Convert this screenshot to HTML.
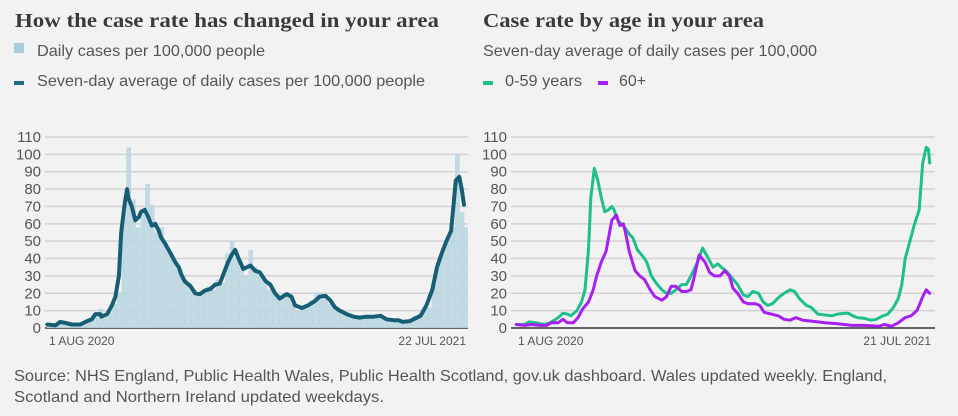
<!DOCTYPE html>
<html><head><meta charset="utf-8"><style>
html,body{margin:0;padding:0;background:#f2f2f2;}
svg{display:block;font-family:"Liberation Sans",sans-serif;}
</style></head><body>
<svg id="c" width="958" height="416" viewBox="0 0 958 416">
<text x="15" y="27" font-family="Liberation Serif,serif" font-weight="bold" font-size="20" fill="#3a3a3a" textLength="424" lengthAdjust="spacingAndGlyphs">How the case rate has changed in your area</text>
<rect x="14" y="43" width="10" height="10" fill="#a9ccd9"/>
<text x="37" y="56" font-size="16" fill="#555" textLength="228" lengthAdjust="spacingAndGlyphs">Daily cases per 100,000 people</text>
<rect x="14" y="81" width="10" height="4" fill="#1f6a85"/>
<text x="37" y="86" font-size="16" fill="#555" textLength="388" lengthAdjust="spacingAndGlyphs">Seven-day average of daily cases per 100,000 people</text>
<text x="483" y="27" font-family="Liberation Serif,serif" font-weight="bold" font-size="20" fill="#3a3a3a" textLength="281" lengthAdjust="spacingAndGlyphs">Case rate by age in your area</text>
<text x="483" y="56" font-size="16" fill="#555" textLength="334" lengthAdjust="spacingAndGlyphs">Seven-day average of daily cases per 100,000</text>
<rect x="483" y="81" width="10" height="4" fill="#1dbf8e"/>
<text x="505" y="86" font-size="16" fill="#555" textLength="77" lengthAdjust="spacingAndGlyphs">0-59 years</text>
<rect x="598" y="81" width="10" height="4" fill="#a820f0"/>
<text x="619" y="86" font-size="16" fill="#555" textLength="27" lengthAdjust="spacingAndGlyphs">60+</text>
<g id="left"></g>
<g id="right"></g>
<text x="14" y="381" font-size="16" fill="#555" textLength="873" lengthAdjust="spacingAndGlyphs">Source: NHS England, Public Health Wales, Public Health Scotland, gov.uk dashboard. Wales updated weekly. England,</text>
<text x="14" y="402" font-size="16" fill="#555" textLength="370" lengthAdjust="spacingAndGlyphs">Scotland and Northern Ireland updated weekdays.</text>
</svg>
<script>
const yTicks=[0,10,20,30,40,50,60,70,80,90,100,110];
const barDays=[0,4,8,12,16,20,24,28,32,36,40,44,48,52,56,60,64,68,72,76,80,84,88,92,96,100,104,108,112,116,120,124,128,132,136,140,144,148,152,156,160,164,168,172,176,180,184,188,192,196,200,204,208,212,216,220,224,228,232,236,240,244,248,252,256,260,264,268,272,276,280,284,288,292,296,300,304,308,312,316,320,324,328,332,336,340,344,348,352,355];
const barVals=[2,1,2,4,3,2,2,2,4,6,8,11,7,9,14,20,66,104,74,58,65,83,71,55,58,47,44,38,34,28,26,22,19,20,24,22,28,26,43,50,41,35,30,45,35,30,28,22,21,17,18,20,14,10,11,13,16,20,20,18,14,12,10,8,7,6,6,7,6,7,7,7,5,5,5,4,4,5,7,8,11,12,25,38,45,53,58,100,67,58];
const avgDays=[0,7,11,15,21,28,34,38,41,45,46,51,55,58,61,63,66,68,69,72,75,78,80,83,86,89,92,95,97,100,105,109,112,114,117,122,126,130,134,139,143,147,150,154,157,160,163,167,173,177,181,186,190,194,198,204,208,211,217,222,228,232,237,241,245,249,255,261,266,272,278,284,289,295,299,303,309,315,318,323,328,332,336,340,344,346,348,351,353,355];
const avgVals=[2,1.5,3.5,3,2,2,4,5,8,8,6.5,8,13,18,30,55,72,80,75,70,62,64,67,68,64,59,60,56,52,49,43,38,35,31,27,24,20,19.5,21.5,22.5,25,25.5,31,38,42,45,40,34,36,33,32,27,25,20,17,19.5,18,13,11.5,13,15.5,18,18.5,16,12,10,8,6.5,6,6.5,6.5,7,5,4.5,4.5,3.5,4,6,7,13,22,35,43,50,56,70,85,87,80,71];
const youngDays=[0,7,11,17,24,29,36,40,44,47,52,56,59,62,64,67,70,73,76,79,82,84,87,93,97,100,104,109,112,116,120,125,129,133,137,142,146,150,155,160,165,169,173,176,180,185,190,195,199,203,208,212,216,220,226,230,235,239,243,249,253,259,265,271,276,282,285,289,293,299,305,309,315,319,324,328,331,334,338,342,346,349,352,354,355];
const youngVals=[2,2,3.5,3,2,3,6,8.5,8,7,10,15,22,45,75,92,85,75,67,68,70,68,62,58,54,52,45,41,38,30,26,22,20,20,22,25,25,30,37,46,40,35,37,35,33,29,25,19,18,21,20,15,13,14,18,20,22,21,17,13,12,8,7.5,7,8,8.5,8.5,7,6,5.5,4.5,5,7,8,12,17,25,40,50,60,68,95,104,103,95];
const oldDays=[0,7,13,20,26,30,36,40,44,49,53,57,62,66,69,73,77,82,86,89,92,94,97,102,106,110,115,119,125,129,133,137,142,146,150,153,157,162,166,170,175,179,183,186,190,195,199,205,209,213,219,225,230,235,240,246,253,259,265,276,288,299,311,316,322,328,334,339,344,346,349,352,355];
const oldVals=[2,1.5,2,1.5,1.5,3,3,5,3,3,6,11,15,22,30,38,44,62,65,59,60,54,44,33,30,28,22,18,16,18,24,24,21,21,22,30,42,38,32,30,30,33,30,23,20,15,14,14,13,9,8,7,5,4.5,6,4.5,4,3.5,3,2.5,1.5,1.5,1,2,1,3,6,7,10,13,18,22,20];
const xLabelsL=["1 AUG 2020","22 JUL 2021"];
const xLabelsR=["1 AUG 2020","21 JUL 2021"];
const NS="http://www.w3.org/2000/svg";
const y=v=>328-v*(191/110);
function mk(tag,attrs,parent){const e=document.createElementNS(NS,tag);for(const k in attrs)e.setAttribute(k,attrs[k]);parent.appendChild(e);return e;}
function axes(g,gx0,gx1,labels,dx0,dx1){
  yTicks.forEach(t=>{
    const l=mk('line',{x1:gx0,x2:gx1,y1:y(t),y2:y(t),stroke:t===0?'#333':'#d2d2d2','stroke-width':1.5},g);
    
    
    const tx=mk('text',{x:gx0-4,y:y(t)+5,'text-anchor':'end','font-size':15,fill:'#555'},g);
    tx.textContent=t;
    
    
  });
  const a=mk('text',{x:dx0,y:345,'font-size':12,fill:'#555'},g);a.textContent=labels[0];
  
  
  const b=mk('text',{x:dx1,y:345,'font-size':12,fill:'#555','text-anchor':'end'},g);b.textContent=labels[1];
  
  
}
function line(g,days,vals,xf,color,w,name){
  const p=days.map((d,i)=>xf(d).toFixed(1)+','+y(vals[i]).toFixed(1)).join(' ');
  const pl=mk('polyline',{points:p,fill:'none',stroke:color,'stroke-width':w,'stroke-linejoin':'round','stroke-linecap':'round'},g);
  
  
}
const L=document.getElementById('left'),R=document.getElementById('right');
const xL=d=>47.3+d*(416.7/355), xR=d=>516.3+d*(413.4/355);
axes(L,45,468,xLabelsL,49,466);
barDays.forEach((d,i)=>{
  const v=barVals[i];
  for(let k=0;k<4;k++){
    const r=mk('rect',{x:xL(d+k)-0.7,width:1.1,y:y(v),height:328-y(v),fill:'#bcd7e1'},L);
    
    
  }
});
line(L,avgDays,avgVals,xL,'#175e75',4,'seven-day-average-line');
axes(R,511,935,xLabelsR,518,931);
line(R,youngDays,youngVals,xR,'#1dbf8e',3,'age-0-59-line');
line(R,oldDays,oldVals,xR,'#a820f0',3,'age-60-plus-line');
</script>
</body></html>
